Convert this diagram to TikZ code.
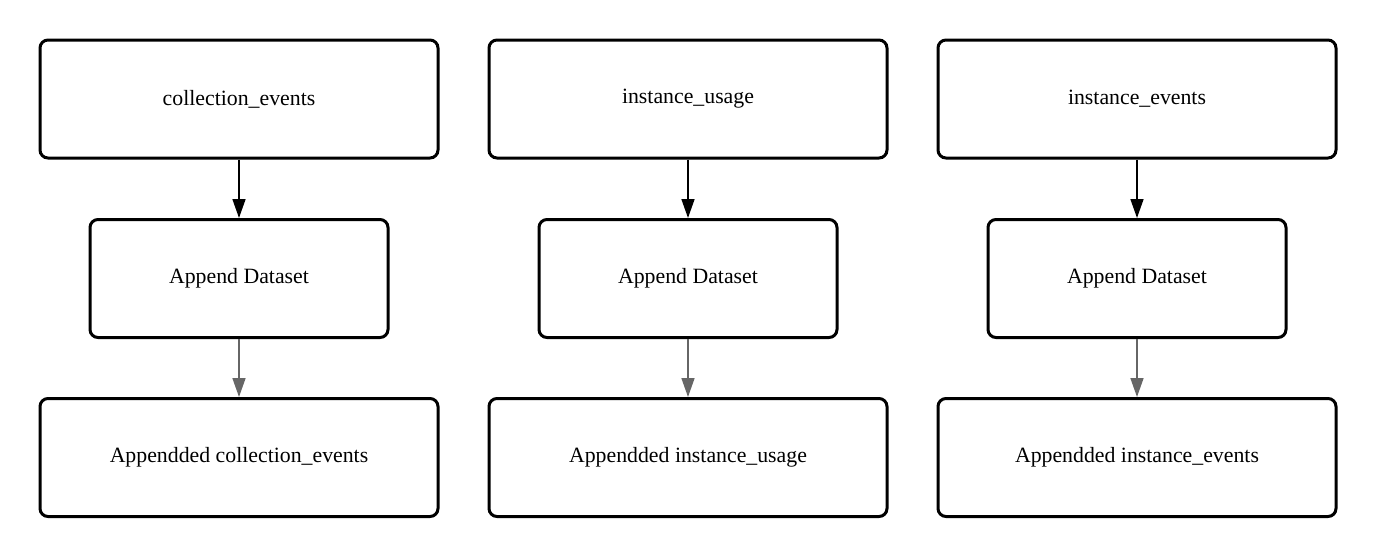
\documentclass[tikz,border=0pt]{standalone}
\usepackage{fontspec}
\setmainfont{Liberation Serif}
\usepackage{tikz}
\usetikzlibrary{arrows.meta, positioning}
\definecolor{flowgray}{RGB}{102, 102, 102}

\tikzset{
  tablebox/.style={draw, line width=3pt, rounded corners=8pt, inner sep=0pt,
    minimum width=398pt, minimum height=118pt, font=\fontsize{21.8}{26}\selectfont},
  stepbox/.style={tablebox, minimum width=298pt},
  flow/.style={line width=1.6pt, -{Triangle[length=19pt, width=13pt]}}
}

\begin{document}
\begin{tikzpicture}[x=1pt, y=-1pt]
  % Canvas
  \useasboundingbox (0,0) rectangle (1377,558);

  % One column per source table
  \foreach \x/\tab/\i in {239/collection\_events/1, 688/instance\_usage/2, 1137/instance\_events/3} {
    \node[tablebox] (top\i) at (\x,99) {\tab};
    \node[stepbox] (mid\i) at (\x,278.5) {Append Dataset};
    \node[tablebox] (bot\i) at (\x,457.5) {Appendded \tab};

    % Connectors
    \draw[flow] (top\i) -- (mid\i);
    \draw[flow, flowgray] (mid\i) -- (bot\i);
  }
\end{tikzpicture}
\end{document}
